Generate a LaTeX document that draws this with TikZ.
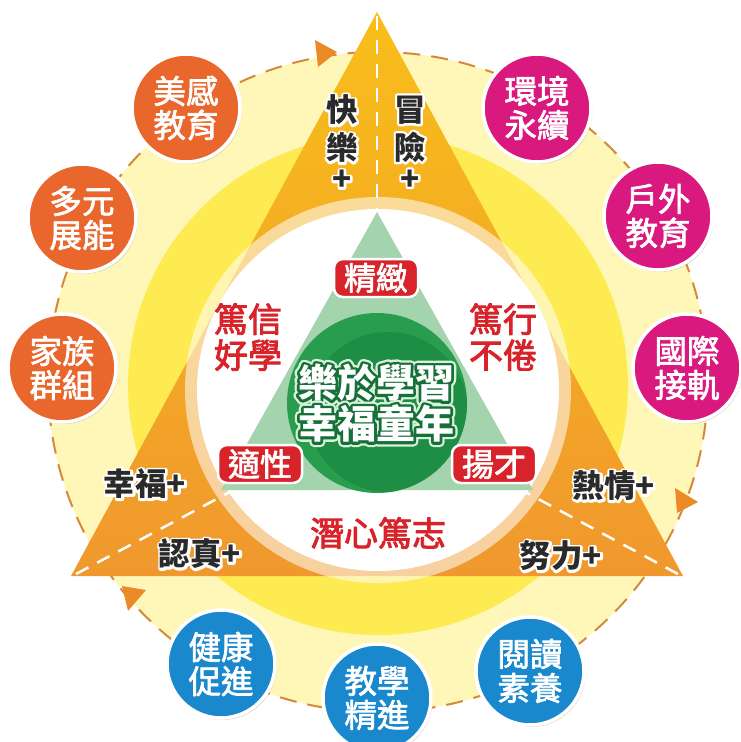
\documentclass[tikz,border=0pt]{standalone}
\usepackage{fontspec}
\newfontfamily\cjk{Noto Sans CJK TC}
\usetikzlibrary{calc,shadows}
\definecolor{paleY}{HTML}{FFF7B8}
\definecolor{brightY}{HTML}{FEEB52}
\definecolor{ringC}{HTML}{D58A3A}
\definecolor{arrC}{HTML}{EC8A28}
\definecolor{triTop}{HTML}{F8BE1A}
\definecolor{triBot}{HTML}{F0982E}
\definecolor{gLight}{HTML}{A4D4AE}
\definecolor{gDark}{HTML}{289D4E}
\definecolor{gInner}{HTML}{1F8E45}
\definecolor{gLine}{HTML}{16703A}
\definecolor{gHalo}{HTML}{D8EFD8}
\definecolor{redC}{HTML}{D8232B}
\definecolor{txtD}{HTML}{2A2A2A}
\definecolor{orC}{HTML}{E9662C}
\definecolor{mgC}{HTML}{D9197E}
\definecolor{blC}{HTML}{1A88CC}
% stroked copy of a text: #1 stroke rgb, #2 width, #3 colour name, #4 text
\newcommand\strk[4]{\textcolor{#3}{\special{pdf:literal direct #1 RG #2 w 1 J 1 j 2 Tr}#4\special{pdf:literal direct 0 Tr}}}
% slightly heavier text in its own colour: #1 stroke rgb, #2 width, #3 text
\newcommand\heavy[3]{\special{pdf:literal direct #1 RG #2 w 1 j 2 Tr}#3\special{pdf:literal direct 0 Tr}}
\newcommand\redm[1]{\heavy{0.847 0.137 0.169}{0.9}{#1}}
\newcommand\whm[1]{\heavy{1 1 1}{0.7}{#1}}
% outlined text: white outline, dark fill
\newcommand\wol[1]{\rlap{\strk{1 1 1}{4.6}{white}{#1}}\textcolor{txtD}{#1}}
% outlined centre text: halo, dark green outline, white fill
\newcommand\gol[1]{\rlap{\strk{0.85 0.94 0.85}{10}{gHalo}{#1}}\rlap{\strk{0.086 0.44 0.227}{5.4}{gLine}{#1}}\textcolor{white}{#1}}
\tikzset{
  outer/.style={circle, minimum size=108, inner sep=0, draw=white, line width=3.5,
    text=white, align=center, font=\cjk\fontsize{32.5}{34}\selectfont,
    drop shadow={opacity=0.3, shadow xshift=1.5pt, shadow yshift=-2pt}},
  redbox/.style={rectangle, rounded corners=9, fill=redC, draw=white, line width=2.5,
    text=white, minimum width=84, minimum height=38, inner sep=0,
    font=\cjk\fontsize{32}{34}\selectfont,
    drop shadow={opacity=0.25, shadow xshift=1pt, shadow yshift=-1.5pt}},
  redtxt/.style={text=redC, align=center, inner sep=0, font=\cjk\fontsize{34}{36}\selectfont},
  sidelbl/.style={align=center, inner sep=0, font=\cjk\bfseries\fontsize{31.5}{38}\selectfont},
  greenlbl/.style={align=center, inner sep=0, font=\cjk\bfseries\fontsize{39}{41}\selectfont},
  wdash/.style={draw=white, line width=2.5, dash pattern=on 14pt off 10pt},
  arrowhd/.style={fill=arrC},
}
\begin{document}
\begin{tikzpicture}[x=1pt, y=-1pt]
\useasboundingbox (0,0) rectangle (741,742);
\fill[white] (0,0) rectangle (741,742);
% background discs
\coordinate (C) at (378,382);
\fill[paleY] (C) circle[radius=330pt];
\fill[brightY] (378,385) circle[radius=250pt];
\draw[ringC, line width=2, dash pattern=on 17pt off 11pt] (C) circle[radius=330pt];
% arrowheads on the ring
\fill[arrowhd] (315,40) -- (337,52) -- (318,67) -- cycle;
\fill[arrowhd] (675,488) -- (698,502) -- (677,513) -- cycle;
\fill[arrowhd] (122,586) -- (146,590) -- (128,611) -- cycle;
% big triangle
\coordinate (TA) at (377,12);
\coordinate (TL) at (71,576);
\coordinate (TR) at (683,576);
\shade[top color=triTop, bottom color=triBot] (TA) -- (TL) -- (TR) -- cycle;
\coordinate (M) at (378,413);
\draw[wdash] (377,16) -- (377,215);
\draw[wdash] (76,574) -- (M);
\draw[wdash] (678,574) -- (M);
% white disc with ring
\fill[white, opacity=0.55] (378,390) circle[radius=193pt];
\fill[white] (378,390) circle[radius=181pt];
% green triangle and disc
\fill[gLight] (377,212) -- (221,490) -- (533,490) -- cycle;
\fill[gDark] (377,403) circle[radius=90pt];
\begin{scope}
  \clip (377,403) circle[radius=90pt];
  \fill[gInner] (388,412) circle[radius=80pt];
\end{scope}
% centre text
\node[greenlbl] (gt) at (376,403) {\gol{樂於學習}\\\gol{幸福童年}};
% red boxes
\node[redbox] (jz) at (376,278) {\whm{精緻}};
\node[redbox] (sx) at (260,464) {\whm{適性}};
\node[redbox] (yc) at (494,464) {\whm{揚才}};
% red texts
\node[redtxt] (dx) at (248,337) {\redm{篤信}\\\redm{好學}};
\node[redtxt] (dh) at (503,337) {\redm{篤行}\\\redm{不倦}};
\node[redtxt, font=\cjk\fontsize{34}{36}\selectfont] (qx) at (378,533) {\redm{潛心篤志}};
% side labels with white outline
\node[sidelbl] (kl) at (342,143) {\wol{快}\\\wol{樂}\\[-7pt]\wol{+}};
\node[sidelbl] (mx) at (410,143) {\wol{冒}\\\wol{險}\\[-7pt]\wol{+}};
\node[sidelbl] (xf) at (145,484) {\wol{幸福+}};
\node[sidelbl] (rz) at (200,554) {\wol{認真+}};
\node[sidelbl] (rq) at (614,486) {\wol{熱情+}};
\node[sidelbl] (nl) at (561,556) {\wol{努力+}};
% outer circles
\node[outer, fill=orC] (o1) at (186,108) {\whm{美感}\\\whm{教育}};
\node[outer, fill=orC] (o2) at (82,218) {\whm{多元}\\\whm{展能}};
\node[outer, fill=orC] (o3) at (62,368) {\whm{家族}\\\whm{群組}};
\node[outer, fill=mgC] (m1) at (537,108) {\whm{環境}\\\whm{永續}};
\node[outer, fill=mgC] (m2) at (658,216) {\whm{戶外}\\\whm{教育}};
\node[outer, fill=mgC] (m3) at (687,368) {\whm{國際}\\\whm{接軌}};
\node[outer, fill=blC] (b1) at (221,664) {\whm{健康}\\\whm{促進}};
\node[outer, fill=blC] (b2) at (377,698) {\whm{教學}\\\whm{精進}};
\node[outer, fill=blC] (b3) at (530,671) {\whm{閱讀}\\\whm{素養}};
\end{tikzpicture}
\end{document}
